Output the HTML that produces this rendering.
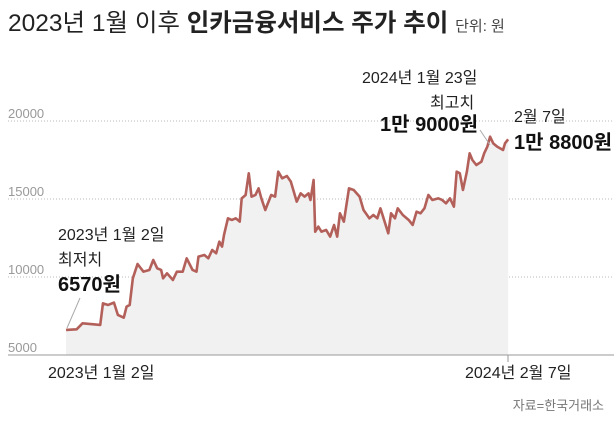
<!DOCTYPE html>
<html><head><meta charset="utf-8"><style>
body{margin:0;width:616px;height:432px;background:#fff;overflow:hidden;font-family:"Liberation Sans","Noto Sans CJK KR",sans-serif;}
</style></head><body>
<svg width="616" height="432" xmlns="http://www.w3.org/2000/svg" style="font-family:'Liberation Sans','Noto Sans CJK KR',sans-serif">
<text x="8" y="31" font-size="24.5" fill="#222">2023년 1월 이후 <tspan font-weight="bold">인카금융서비스 주가 추이</tspan> <tspan font-size="15" fill="#444">단위: 원</tspan></text>
<g stroke="#bbb" stroke-dasharray="1,2" stroke-width="1">
<line x1="8" y1="121" x2="614" y2="121"/><line x1="8" y1="199" x2="614" y2="199"/><line x1="8" y1="277" x2="614" y2="277"/>
</g>
<g font-size="13" fill="#999">
<text x="8" y="118">20000</text><text x="8" y="196">15000</text><text x="8" y="274">10000</text><text x="8" y="352">5000</text>
</g>
<g transform="translate(0,90) scale(0.393,0.3333)">
<polygon fill="#f1f1f1" points="168,795 168,720 195,718 210,700 255,705 262,640 275,645 290,638 300,675 315,683 322,650 330,645 338,565 350,522 365,545 380,540 390,510 400,535 410,540 415,565 425,550 440,570 450,545 465,545 475,505 490,540 500,545 505,500 520,495 530,505 540,480 550,490 558,455 565,470 570,435 580,385 590,390 600,385 610,395 615,325 625,315 633,250 640,320 650,315 658,295 665,325 675,360 690,315 700,320 708,245 718,265 730,258 740,275 755,335 765,310 775,320 785,310 790,330 798,270 802,425 810,410 818,425 830,420 840,440 850,405 858,440 865,370 875,395 888,295 900,300 915,320 925,360 940,385 950,375 960,385 968,355 988,430 995,370 1005,385 1012,355 1025,375 1040,390 1050,405 1060,365 1070,370 1080,355 1090,315 1100,330 1115,325 1125,330 1135,340 1145,325 1155,350 1162,245 1170,250 1178,300 1188,245 1195,190 1202,210 1212,225 1225,215 1232,190 1240,170 1247,140 1255,160 1265,170 1280,180 1285,160 1293,148 1293,795"/>
<polyline fill="none" stroke="#b4605a" stroke-width="2.6" vector-effect="non-scaling-stroke" stroke-linejoin="round" points="168,720 195,718 210,700 255,705 262,640 275,645 290,638 300,675 315,683 322,650 330,645 338,565 350,522 365,545 380,540 390,510 400,535 410,540 415,565 425,550 440,570 450,545 465,545 475,505 490,540 500,545 505,500 520,495 530,505 540,480 550,490 558,455 565,470 570,435 580,385 590,390 600,385 610,395 615,325 625,315 633,250 640,320 650,315 658,295 665,325 675,360 690,315 700,320 708,245 718,265 730,258 740,275 755,335 765,310 775,320 785,310 790,330 798,270 802,425 810,410 818,425 830,420 840,440 850,405 858,440 865,370 875,395 888,295 900,300 915,320 925,360 940,385 950,375 960,385 968,355 988,430 995,370 1005,385 1012,355 1025,375 1040,390 1050,405 1060,365 1070,370 1080,355 1090,315 1100,330 1115,325 1125,330 1135,340 1145,325 1155,350 1162,245 1170,250 1178,300 1188,245 1195,190 1202,210 1212,225 1225,215 1232,190 1240,170 1247,140 1255,160 1265,170 1280,180 1285,160 1293,148"/>
</g>
<line x1="8" y1="355" x2="614" y2="355" stroke="#999" stroke-width="1"/>
<line x1="508" y1="355" x2="508" y2="362" stroke="#999"/>
<line x1="80" y1="298" x2="67" y2="328" stroke="#aaa"/>
<line x1="480" y1="130" x2="490" y2="145" stroke="#aaa"/>
<g font-size="16" fill="#222">
<text x="48" y="378">2023년 1월 2일</text>
<text x="465" y="378">2024년 2월 7일</text>
<text x="58" y="240">2023년 1월 2일</text>
<text x="58" y="265">최저치</text>
<text x="362" y="83">2024년 1월 23일</text>
<text x="430" y="108">최고치</text>
<text x="514" y="122">2월 7일</text>
</g>
<g font-size="20" font-weight="bold" fill="#111">
<text x="58" y="291">6570원</text>
<text x="478" y="131" text-anchor="end">1만 9000원</text>
<text x="514" y="149">1만 8800원</text>
</g>
<text x="604" y="410" font-size="13" fill="#777" text-anchor="end">자료=한국거래소</text>
</svg>
</body></html>
